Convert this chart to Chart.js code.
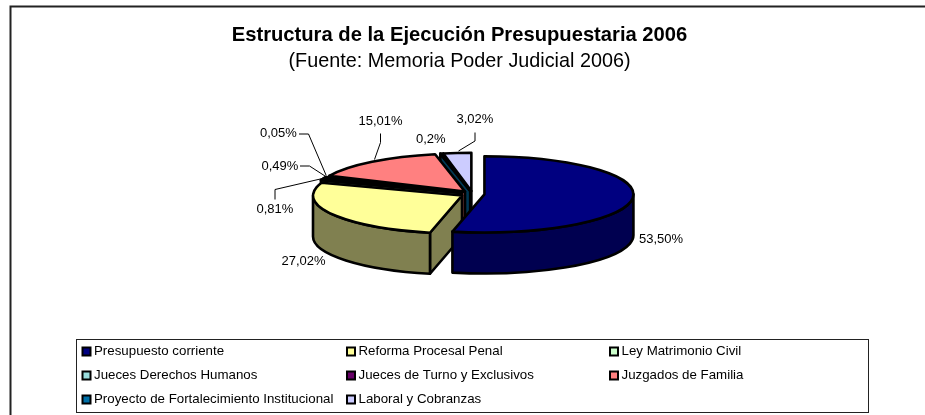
<!DOCTYPE html>
<html><head><meta charset="utf-8">
<style>html,body{margin:0;padding:0;background:#fff}#w{position:relative;width:925px;height:415px}canvas{display:block}</style>
<script src="https://cdn.jsdelivr.net/npm/chart.js@4"></script>
</head><body><div id="w"><canvas id="c" width="925" height="415"></canvas></div>
<script>
const categories = ["Presupuesto corriente","Reforma Procesal Penal","Ley Matrimonio Civil","Jueces Derechos Humanos","Jueces de Turno y Exclusivos","Juzgados de Familia","Proyecto de Fortalecimiento Institucional","Laboral y Cobranzas"];
const values = [53.50,27.02,0.81,0.49,0.05,15.01,0.2,3.02];
const valueLabels = ["53,50%","27,02%","0,81%","0,49%","0,05%","15,01%","0,2%","3,02%"];
const faceColors = ["#000080","#FFFF99","#CCFFCC","#99DDDD","#660066","#FF8080","#0070A8","#CCCCFF"];
const wallColors = ["#000050","#808050","#668066","#4C6E6E","#330033","#804040","#003854","#666680"];
const titleText = "Estructura de la Ejecución Presupuestaria 2006";
const subtitleText = "(Fuente: Memoria Poder Judicial 2006)";

const FONT = '"Liberation Sans", Arial, sans-serif';
const K = 0.256, DEPTH = 41, LW = 2.6, PIE_DX = 13;
const labelLayout = [
 {x:639,y:239},
 {x:281.5,y:261},
 {x:256.5,y:209,line:[[275,199.5],[275,189.5],[322.5,178.5]]},
 {x:261.5,y:166,line:[[300,166],[309.5,166],[325,176]]},
 {x:260,y:133.5,line:[[299,134],[308.5,134],[326,175]]},
 {x:358.5,y:121,line:[[380.5,133.5],[380.5,142.5],[374.5,159.5]]},
 {x:416,y:139},
 {x:456.5,y:119.5,line:[[475,132.5],[475,141],[458.5,151]]}
];
const legendBox = {l:76.5,t:339.5,r:868.5,b:412.5};
const legendCols = [81.5,346,609], legendRows = [351.5,375.5,399.5];

const pie3d = {
 id:'pie3d',
 beforeDatasetsDraw(chart){
  const ctx = chart.ctx, arcs = chart.getDatasetMeta(0).data;
  ctx.save();
  ctx.strokeStyle='#222'; ctx.lineWidth=2;
  ctx.beginPath();ctx.moveTo(925,6.5);ctx.lineTo(10.5,6.5);ctx.lineTo(10.5,415);ctx.stroke();
  ctx.restore();
  for(let i=arcs.length-1;i>=0;i--){
   const a=arcs[i], s=a.startAngle, e=a.endAngle, r=a.outerRadius, off=a.options.offset, m=(s+e)/2;
   const cx=a.x+PIE_DX+Math.cos(m)*off, cy=a.y+Math.sin(m)*off*K;
   const px=t=>cx+Math.cos(t)*r, py=t=>cy+Math.sin(t)*r*K;
   ctx.save();
   ctx.lineWidth=LW; ctx.strokeStyle='#000'; ctx.lineJoin='round';
   ctx.fillStyle=wallColors[i];
   const quad=t=>{ctx.beginPath();ctx.moveTo(cx,cy);ctx.lineTo(px(t),py(t));ctx.lineTo(px(t),py(t)+DEPTH);ctx.lineTo(cx,cy+DEPTH);ctx.closePath();ctx.fill();ctx.stroke();};
   if(-Math.cos(s)>0) quad(s);
   if(Math.cos(e)>0) quad(e);
   const TAU=Math.PI*2;
   for(const k of [-1,0,1]){
    const a0=Math.max(s,k*TAU), a1=Math.min(e,k*TAU+Math.PI);
    if(a1>a0){
     ctx.beginPath();
     ctx.ellipse(cx,cy,r,r*K,0,a0,a1);
     ctx.ellipse(cx,cy+DEPTH,r,r*K,0,a1,a0,true);
     ctx.closePath();ctx.fill();ctx.stroke();
    }
   }
   ctx.fillStyle=a.options.backgroundColor;
   ctx.beginPath();ctx.moveTo(cx,cy);ctx.ellipse(cx,cy,r,r*K,0,s,e);ctx.closePath();ctx.fill();ctx.stroke();
   ctx.restore();
  }
  return false;
 },
 afterDraw(chart){
  const ctx=chart.ctx;
  ctx.save();
  ctx.textBaseline='middle';ctx.textAlign='left';ctx.fillStyle='#000';
  ctx.font='13px '+FONT;
  ctx.strokeStyle='#000';ctx.lineWidth=1;
  labelLayout.forEach((p,i)=>{
   ctx.fillText(valueLabels[i],p.x,p.y);
   if(p.line){ctx.beginPath();p.line.forEach((q,j)=>j?ctx.lineTo(q[0],q[1]):ctx.moveTo(q[0],q[1]));ctx.stroke();}
  });
  const b=legendBox;
  ctx.strokeStyle='#222';ctx.lineWidth=1;ctx.strokeRect(b.l,b.t,b.r-b.l,b.b-b.t);
  ctx.font='13.3px '+FONT;
  categories.forEach((c,i)=>{
   const x=legendCols[i%3], y=legendRows[Math.floor(i/3)];
   ctx.fillStyle=faceColors[i];ctx.strokeStyle='#000';ctx.lineWidth=2;
   ctx.fillRect(x+1,y-4,8,8);ctx.strokeRect(x+1,y-4,8,8);
   ctx.fillStyle='#000';ctx.fillText(c,x+12.5,y);
  });
  ctx.restore();
 }
};

new Chart(document.getElementById('c'),{
 type:'pie',
 data:{labels:categories,datasets:[{data:values,backgroundColor:faceColors,offset:12,radius:149,borderWidth:0}]},
 options:{
  responsive:false,animation:false,devicePixelRatio:1,
  layout:{padding:{left:0,right:6,top:0,bottom:100}},
  plugins:{
   legend:{display:false},tooltip:{enabled:false},
   title:{display:true,text:titleText,color:'#000',font:{family:FONT,size:20.2,weight:'bold'},padding:{top:23,bottom:2}},
   subtitle:{display:true,text:subtitleText,color:'#000',font:{family:FONT,size:19.8,weight:'normal'},padding:{top:0,bottom:0}}
  }
 },
 plugins:[pie3d]
});
</script></body></html>
